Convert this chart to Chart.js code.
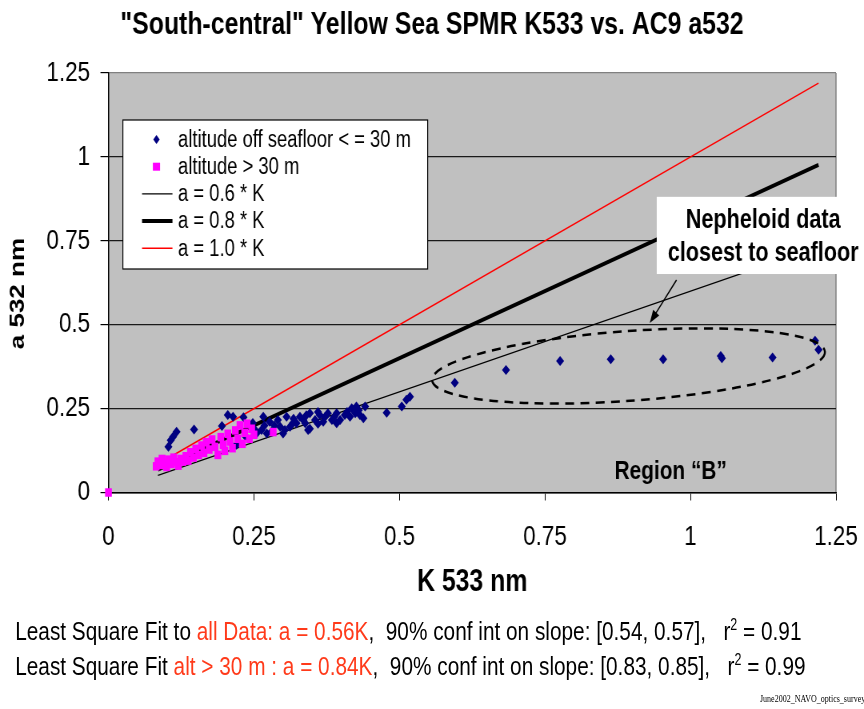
<!DOCTYPE html>
<html>
<head>
<meta charset="utf-8">
<script src="https://cdn.jsdelivr.net/npm/chart.js@4.4.1/dist/chart.umd.min.js"></script>
<style>
  html, body { margin: 0; padding: 0; background: #fff; overflow: hidden; }
  #wrap { position: relative; width: 1080px; height: 709px; transform: scaleX(0.8); transform-origin: 0 0; }
  #c { position: absolute; left: 0; top: 0; }
  .note { position: absolute; left: 19px; font-family: "Liberation Sans", Arial, sans-serif; font-size: 26px; white-space: nowrap; color: #000; }
  .note .hl { color: #ff3a1a; }
  .note sup { font-size: 60%; line-height: 0; }
  #stamp { position: absolute; left: 950px; top: 693px; font-family: "Liberation Serif", serif; font-size: 10px; white-space: nowrap; }
</style>
</head>
<body>
<div id="wrap">
  <canvas id="c" width="1080" height="709" style="width:1080px;height:709px"></canvas>
  <div class="note" style="top:616px">Least Square Fit to <span class="hl">all Data: a = 0.56K</span>,&nbsp; 90% conf int on slope: [0.54, 0.57], &nbsp; r<sup>2</sup> = 0.91</div>
  <div class="note" style="top:651px">Least Square Fit <span class="hl">alt &gt; 30 m : a = 0.84K</span>,&nbsp; 90% conf int on slope: [0.83, 0.85], &nbsp; r<sup>2</sup> = 0.99</div>
  <div id="stamp">June2002_NAVO_optics_survey</div>
</div>
<script>
// axis ticks
const xTicks = [0, 0.25, 0.5, 0.75, 1, 1.25];
const yTicks = [0, 0.25, 0.5, 0.75, 1, 1.25];

// altitude off seafloor <= 30 m  (K533, a532)
const blueK = [0.103, 0.107, 0.111, 0.117, 0.147, 0.195, 0.205, 0.214, 0.220, 0.232, 0.235, 0.248, 0.252, 0.255,
  0.263, 0.266, 0.272, 0.277, 0.280, 0.291, 0.295, 0.300, 0.303, 0.306, 0.312, 0.317, 0.323, 0.329, 0.338,
  0.343, 0.346, 0.346, 0.355, 0.363, 0.369, 0.377, 0.384, 0.392, 0.392, 0.398, 0.406, 0.415, 0.418, 0.424,
  0.426, 0.432, 0.438, 0.441, 0.478, 0.504, 0.512, 0.518,
  0.285, 0.318, 0.335, 0.340, 0.360, 0.360, 0.372, 0.388, 0.410, 0.430, 0.268,
  0.595, 0.683, 0.776, 0.863, 0.953, 1.052, 1.054, 1.141, 1.214, 1.220];
const blueA = [0.136, 0.156, 0.166, 0.181, 0.188, 0.198, 0.231, 0.226, 0.142, 0.224, 0.168, 0.207, 0.186, 0.177,
  0.186, 0.226, 0.176, 0.211, 0.181, 0.216, 0.196, 0.176, 0.186, 0.226, 0.196, 0.207, 0.206, 0.226, 0.206,
  0.186, 0.236, 0.190, 0.216, 0.231, 0.211, 0.236, 0.216, 0.236, 0.206, 0.216, 0.231, 0.226, 0.251, 0.236,
  0.256, 0.231, 0.221, 0.256, 0.238, 0.256, 0.276, 0.285,
  0.200, 0.220, 0.215, 0.230, 0.205, 0.240, 0.225, 0.226, 0.240, 0.245, 0.200,
  0.327, 0.365, 0.392, 0.397, 0.397, 0.407, 0.400, 0.402, 0.452, 0.425];

// altitude > 30 m
const pinkK = [0.082, 0.085, 0.090, 0.092, 0.097, 0.100, 0.103, 0.108, 0.112, 0.116, 0.120, 0.124, 0.128,
  0.133, 0.137, 0.141, 0.146, 0.150, 0.155, 0.160, 0.164, 0.168, 0.173, 0.178, 0.183, 0.188,
  0.193, 0.197, 0.200, 0.205, 0.209, 0.213, 0.218, 0.222, 0.226, 0.230, 0.234, 0.238, 0.242, 0.246, 0.250,
  0.283, 0];
const pinkA = [0.078, 0.092, 0.082, 0.100, 0.088, 0.076, 0.098, 0.085, 0.104, 0.090, 0.080, 0.100, 0.092,
  0.108, 0.095, 0.120, 0.104, 0.130, 0.112, 0.140, 0.118, 0.150, 0.128, 0.158, 0.136, 0.112,
  0.165, 0.142, 0.124, 0.175, 0.152, 0.132, 0.185, 0.160, 0.200, 0.145, 0.178, 0.205, 0.160, 0.190, 0.172,
  0.180, 0];

// reference lines a = c * K (end points)
const lineK = [0.085, 1.22];
const line06 = [0.051, 0.732];
const line08 = [0.068, 0.976];
const line10 = [0.085, 1.22];

// annotations (data coordinates)
const ellipseK = [0.556, 1.231];
const ellipseA = [0.335, 0.419];
const ellipseHalfA = 0.104;
const arrowK = [0.976, 0.930];
const arrowA = [0.633, 0.505];

const toXY = (xs, ys) => xs.map((x, i) => ({ x: x, y: ys[i] }));
const FONT = "'Liberation Sans', Arial, sans-serif";

Chart.defaults.font.family = FONT;
Chart.defaults.color = '#000';

const plotBg = {
  id: 'plotBg',
  beforeDraw(chart) {
    const { ctx, chartArea: a } = chart;
    ctx.save();
    ctx.fillStyle = '#c0c0c0';
    ctx.fillRect(a.left, a.top, a.right - a.left, a.bottom - a.top);
    ctx.strokeStyle = '#808080';
    ctx.lineWidth = 1.5;
    ctx.beginPath();
    ctx.moveTo(a.right, a.top);
    ctx.lineTo(a.right, a.bottom);
    ctx.stroke();
    ctx.restore();
  }
};

const notes = {
  id: 'notes',
  afterDatasetsDraw(chart) {
    const { ctx, chartArea: a } = chart;
    const xs = chart.scales.x, ys = chart.scales.y;
    ctx.save();

    // dashed ellipse round region B
    const x1 = xs.getPixelForValue(ellipseK[0]), y1 = ys.getPixelForValue(ellipseA[0]);
    const x2 = xs.getPixelForValue(ellipseK[1]), y2 = ys.getPixelForValue(ellipseA[1]);
    const rx = Math.hypot(x2 - x1, y2 - y1) / 2;
    const ry = ys.getPixelForValue(0) - ys.getPixelForValue(ellipseHalfA);
    ctx.strokeStyle = '#000';
    ctx.lineWidth = 2.5;
    ctx.setLineDash([11, 8]);
    ctx.beginPath();
    ctx.ellipse((x1 + x2) / 2, (y1 + y2) / 2, rx, ry, Math.atan2(y2 - y1, x2 - x1), 0, 2 * Math.PI);
    ctx.stroke();
    ctx.setLineDash([]);

    // arrow
    const ax1 = xs.getPixelForValue(arrowK[0]), ay1 = ys.getPixelForValue(arrowA[0]);
    const ax2 = xs.getPixelForValue(arrowK[1]), ay2 = ys.getPixelForValue(arrowA[1]);
    const ang = Math.atan2(ay2 - ay1, ax2 - ax1);
    ctx.lineWidth = 1.5;
    ctx.beginPath();
    ctx.moveTo(ax1, ay1);
    ctx.lineTo(ax2 - 10 * Math.cos(ang), ay2 - 10 * Math.sin(ang));
    ctx.stroke();
    ctx.beginPath();
    ctx.moveTo(ax2, ay2);
    ctx.lineTo(ax2 - 14 * Math.cos(ang - 0.35), ay2 - 14 * Math.sin(ang - 0.35));
    ctx.lineTo(ax2 - 14 * Math.cos(ang + 0.35), ay2 - 14 * Math.sin(ang + 0.35));
    ctx.closePath();
    ctx.fillStyle = '#000';
    ctx.fill();

    // Nepheloid label box
    const bx = xs.getPixelForValue(0.942);
    const by1 = ys.getPixelForValue(0.881), by2 = ys.getPixelForValue(0.651);
    ctx.fillStyle = '#fff';
    ctx.fillRect(bx, by1, chart.width - bx, by2 - by1);
    ctx.fillStyle = '#000';
    ctx.font = 'bold 27px ' + FONT;
    ctx.textAlign = 'center';
    ctx.textBaseline = 'middle';
    ctx.fillText('Nepheloid data', xs.getPixelForValue(1.125), ys.getPixelForValue(0.809));
    ctx.fillText('closest to seafloor', xs.getPixelForValue(1.125), ys.getPixelForValue(0.711));

    ctx.font = 'bold 26px ' + FONT;
    ctx.fillText('Region \u201CB\u201D', xs.getPixelForValue(0.966), ys.getPixelForValue(0.061));

    // legend
    const lx = a.left + 18, ly = a.top + 47, lw = 381, lh = 149;
    ctx.fillStyle = '#fff';
    ctx.fillRect(lx, ly, lw, lh);
    ctx.strokeStyle = '#000';
    ctx.lineWidth = 1.2;
    ctx.strokeRect(lx, ly, lw, lh);
    ctx.font = '23px ' + FONT;
    ctx.textAlign = 'left';
    chart.data.datasets.forEach((ds, i) => {
      const ry0 = ly + 19.5 + i * 27.2;
      if (ds.showLine) {
        ctx.strokeStyle = ds.borderColor;
        ctx.lineWidth = ds.borderWidth;
        ctx.beginPath();
        ctx.moveTo(lx + 24, ry0);
        ctx.lineTo(lx + 62, ry0);
        ctx.stroke();
      } else {
        ctx.fillStyle = ds.backgroundColor;
        ctx.beginPath();
        if (ds.pointStyle === 'rectRot') {
          ctx.moveTo(lx + 42, ry0 - 4.5);
          ctx.lineTo(lx + 46, ry0);
          ctx.lineTo(lx + 42, ry0 + 4.5);
          ctx.lineTo(lx + 38, ry0);
        } else {
          ctx.rect(lx + 37.5, ry0 - 4, 9, 8);
        }
        ctx.closePath();
        ctx.fill();
      }
      ctx.fillStyle = '#000';
      ctx.fillText(ds.label, lx + 69, ry0 + 1);
    });
    ctx.restore();
  }
};

new Chart(document.getElementById('c'), {
  type: 'scatter',
  data: {
    datasets: [
      {
        label: 'altitude off seafloor < = 30 m',
        data: toXY(blueK, blueA),
        pointStyle: 'rectRot',
        pointRadius: 5,
        backgroundColor: '#000080',
        borderColor: '#000080',
        borderWidth: 0,
        order: 1,
        clip: false
      },
      {
        label: 'altitude > 30 m',
        data: toXY(pinkK, pinkA),
        pointStyle: 'rect',
        pointRadius: 6,
        backgroundColor: '#ff00ff',
        borderColor: '#ff00ff',
        borderWidth: 0,
        order: 0,
        clip: false
      },
      {
        label: 'a = 0.6 * K',
        data: toXY(lineK, line06),
        showLine: true,
        borderColor: '#000',
        borderWidth: 1.2,
        pointRadius: 0,
        order: 2
      },
      {
        label: 'a = 0.8 * K',
        data: toXY(lineK, line08),
        showLine: true,
        borderColor: '#000',
        borderWidth: 4,
        pointRadius: 0,
        order: 2
      },
      {
        label: 'a = 1.0 * K',
        data: toXY(lineK, line10),
        showLine: true,
        borderColor: '#ff0000',
        borderWidth: 1.5,
        pointRadius: 0,
        order: 2
      }
    ]
  },
  options: {
    responsive: false,
    animation: false,
    devicePixelRatio: 1,
    layout: { padding: 0 },
    plugins: {
      legend: { display: false },
      tooltip: { enabled: false },
      title: {
        display: true,
        text: '"South-central" Yellow Sea SPMR K533 vs. AC9 a532',
        font: { size: 31, weight: 'bold' },
        color: '#000',
        padding: { top: 6.4, bottom: 29.4 }
      }
    },
    scales: {
      x: {
        type: 'linear',
        min: 0,
        max: 1.25,
        afterBuildTicks: (s) => { s.ticks = xTicks.map(v => ({ value: v })); },
        afterFit: (s) => { s.height = 216.5; s.paddingRight = 0; s.paddingLeft = 0; },
        ticks: { font: { size: 28 }, padding: 19.7, maxRotation: 0, callback: (v) => String(v) },
        grid: { drawOnChartArea: false, drawTicks: true, tickLength: 8, color: '#000', tickColor: '#000' },
        border: { display: true, color: '#000', width: 1.5 },
        title: { display: true, text: 'K 533 nm', font: { size: 31, weight: 'bold' }, padding: { top: 0, bottom: 108.4 } }
      },
      y: {
        type: 'linear',
        min: 0,
        max: 1.25,
        afterBuildTicks: (s) => { s.ticks = yTicks.map(v => ({ value: v })); },
        afterFit: (s) => { s.width = 135.6; },
        ticks: { font: { size: 28 }, padding: 13, callback: (v) => String(v) },
        grid: {
          drawTicks: true,
          tickLength: 10,
          lineWidth: 1.2,
          tickColor: '#000',
          color: (c) => (c.tick && c.tick.value === 1.25 ? '#808080' : '#1a1a1a')
        },
        border: { display: true, color: '#000', width: 1.5 },
        title: { display: true, text: 'a 532 nm\u00a0\u00a0\u00a0', font: { size: 26, weight: 'bold' }, padding: { top: 7, bottom: 0 } }
      },
      // empty margin on the right of the plot
      yRight: {
        type: 'linear',
        position: 'right',
        display: true,
        afterFit: (s) => { s.width = 35; },
        ticks: { display: false },
        grid: { display: false, drawTicks: false },
        border: { display: false }
      }
    }
  },
  plugins: [plotBg, notes]
});
</script>
</body>
</html>
